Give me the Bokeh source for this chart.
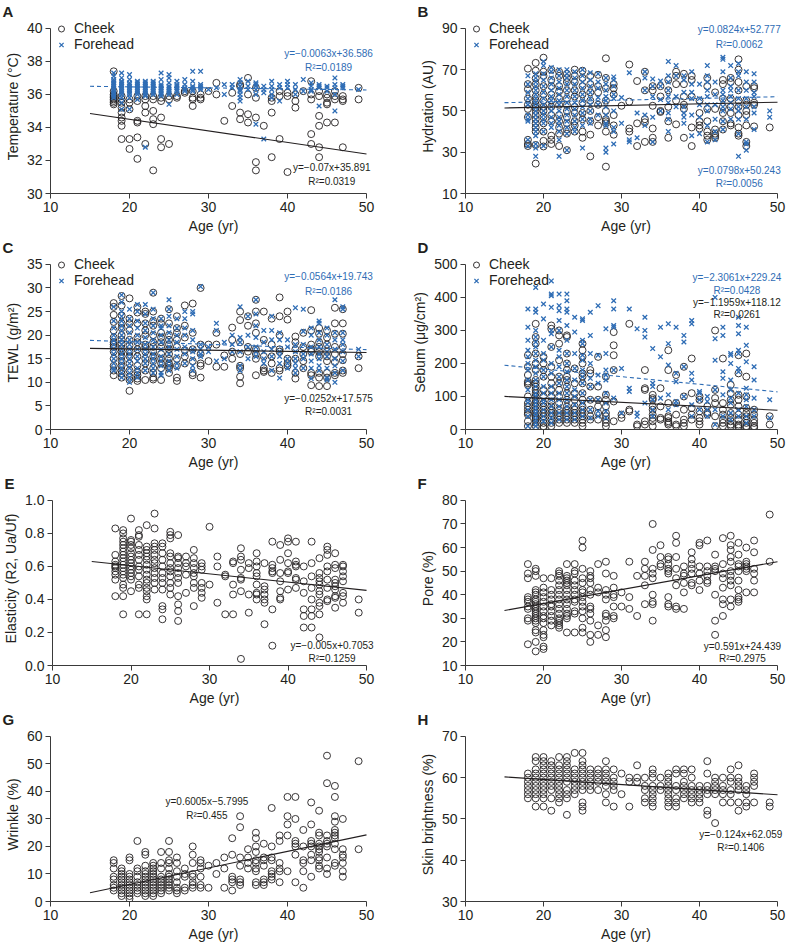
from bokeh.plotting import figure
from bokeh.layouts import column, row
from bokeh.models import Label, FixedTicker, Range1d, NumeralTickFormatter
from bokeh.embed import file_html
from bokeh.resources import INLINE

FONT = "Liberation Sans"
BLUE = "#2f6db5"
BLACK = "#231f20"

# ---------------- data (age in years -> measured values) ----------------
age_ticks = [10, 20, 30, 40, 50]

# A: Temperature (°C)
A_cheek = {
    18: [37.4, 36.2, 36.0, 35.9, 35.8, 35.7, 35.6, 35.5, 35.4],
    19: [35.9, 35.7, 35.5, 35.2, 34.9, 34.6, 34.4, 34.1, 33.3],
    20: [35.7, 35.5, 35.1, 33.3, 32.7],
    21: [35.9, 35.6, 34.4, 34.3, 33.4, 32.1],
    22: [35.9, 35.7, 35.3, 34.9, 33.0],
    23: [35.9, 35.7, 35.0, 34.5, 34.2, 31.4],
    24: [35.8, 35.6, 34.6, 33.3, 32.8],
    25: [35.9, 35.7, 33.0],
    26: [35.9, 35.8],
    27: [36.2, 36.1],
    28: [36.2, 35.8, 35.7, 35.3],
    29: [36.0, 35.8, 35.7],
    30: [36.2],
    31: [36.7, 36.0],
    32: [34.4],
    33: [36.1, 35.3],
    34: [36.6, 36.5, 34.9, 34.5],
    35: [37.0, 36.0, 34.8, 34.3],
    36: [36.4, 35.8, 34.6, 31.9, 31.4],
    37: [34.1],
    38: [35.8, 35.6, 34.9, 32.2],
    39: [36.2, 35.9, 33.3],
    40: [36.1, 35.9, 31.3],
    41: [36.0, 35.6, 35.2],
    42: [36.2],
    43: [36.8, 36.0, 35.7, 33.6, 33.0],
    44: [36.2, 35.9, 34.7, 34.1, 32.8, 32.2],
    45: [36.0, 35.8, 35.5, 35.4, 34.3],
    46: [36.2, 35.9, 35.7, 34.3],
    47: [35.9, 35.7, 35.6, 32.8],
    49: [36.4, 35.7],
}
A_forehead = {
    18: [37.3, 37.1, 36.9, 36.8, 36.7, 36.6, 36.5, 36.4, 36.3, 36.2, 36.1, 36.0, 35.9, 35.8],
    19: [37.3, 37.0, 36.8, 36.7, 36.6, 36.5, 36.4, 36.3, 36.2, 36.1, 36.0, 35.8, 35.5, 35.1],
    20: [37.2, 36.9, 36.7, 36.6, 36.5, 36.4, 36.3, 36.2, 36.1, 36.0, 35.8, 35.1],
    21: [36.8, 36.7, 36.6, 36.5, 36.4, 36.3, 36.2, 36.1, 36.0, 35.7],
    22: [36.8, 36.7, 36.6, 36.5, 36.4, 36.3, 36.2, 36.1, 36.0, 35.9, 32.8],
    23: [36.8, 36.7, 36.6, 36.5, 36.4, 36.3, 36.2, 36.1, 36.0],
    24: [37.3, 36.9, 36.6, 36.5, 36.4, 36.3, 36.2, 36.1, 36.0, 35.9],
    25: [37.2, 37.0, 36.7, 36.5, 36.4, 36.3, 36.2, 36.1, 36.0, 35.4],
    26: [36.8, 36.6, 36.5, 36.4, 36.3, 36.2, 36.0],
    27: [36.9, 36.6, 36.4, 36.3, 36.2],
    28: [37.4, 36.8, 36.5, 36.4, 36.3, 36.2],
    29: [37.4, 36.6, 36.5, 36.4, 36.3],
    30: [36.3],
    31: [36.4],
    32: [36.6, 36.0],
    33: [36.6, 36.4],
    34: [36.9, 36.7, 36.5, 36.3, 36.2, 36.0, 35.8, 35.6],
    35: [36.8, 36.5, 36.3],
    36: [36.7, 36.6, 36.5, 36.3, 36.0, 34.2],
    37: [36.5, 36.3, 36.1, 33.3],
    38: [36.8, 36.5, 36.3, 36.0, 35.8],
    39: [36.6, 36.4, 35.6],
    40: [36.8, 36.6, 36.4],
    41: [36.6, 36.3, 36.0],
    42: [36.9, 36.2],
    43: [36.7, 36.5, 36.3, 36.2],
    44: [36.6, 36.5, 36.4, 35.3],
    45: [36.5, 36.4, 36.2],
    46: [37.0, 36.6, 36.4, 36.0, 35.0],
    47: [36.6, 36.5, 36.4],
    49: [36.3],
}

# B: Hydration (AU)
B_cheek = {
    18: [70.5, 63, 60.5, 56, 53, 51, 47, 36, 34, 33],
    19: [73.3, 69.5, 65.8, 63, 60, 57, 55, 53, 51.5, 50, 48, 46, 44, 42, 40, 33.5, 24.5],
    20: [75.8, 69, 67, 62, 58, 55, 52, 50, 47, 44, 40, 35.5, 32.8],
    21: [70, 65, 62, 58, 55, 52, 48, 45, 38, 36, 34],
    22: [69, 67, 62, 59.5, 56, 53, 48, 45, 42, 39, 33],
    23: [68, 66, 64, 60, 56, 53, 50, 47, 44, 41, 39, 31],
    24: [70, 67, 64, 60, 57, 52, 49, 45, 43, 40],
    25: [69.5, 66, 62, 58, 54, 49, 46, 40, 37],
    26: [67, 63, 59, 55, 50, 45, 38.5, 28],
    27: [67.5, 62, 59, 53, 47, 43],
    28: [75.5, 66, 61, 55, 50, 46, 45, 44, 40, 23],
    29: [63, 61, 58, 48, 43, 38.5],
    30: [52.5],
    31: [72.5, 54.5, 41.5, 40],
    32: [64.5, 44, 33],
    33: [69, 60, 46, 44.5, 35],
    34: [62, 60, 52.5, 41.5, 37, 35],
    35: [62, 57, 50, 49.5],
    36: [65, 60, 52, 45, 37],
    37: [69, 67, 63, 55, 43.5],
    38: [68, 63, 57, 53, 51, 37],
    39: [67, 65, 57, 42, 33],
    40: [55, 49, 45, 43, 41.5],
    41: [66, 62, 51, 45, 40, 38, 36],
    42: [59, 51, 41, 39, 38, 37],
    43: [65, 63, 56, 52, 49, 45, 41],
    44: [66, 64, 56, 52, 49, 44, 43],
    45: [75, 70, 64, 60, 55, 52, 48, 42, 39, 38],
    46: [62, 55, 53, 50, 48, 43, 35, 33],
    47: [62, 61, 54, 53, 42.5],
    49: [42],
}
B_forehead = {
    18: [67, 63, 59, 56, 53, 48, 46, 45, 36, 33],
    19: [68, 66, 64, 62, 60, 58, 56, 54, 52, 50, 48, 46, 44, 42, 40, 38, 34, 32, 28],
    20: [74, 72, 68, 65, 62, 59, 56, 53, 50, 48, 46, 44, 40, 33],
    21: [71, 69, 66, 63, 60, 57, 55, 52, 50, 47, 44, 42],
    22: [70, 67, 64, 61, 58, 55, 53, 50, 47, 45, 43, 40, 36, 28],
    23: [70, 68, 66, 63, 60, 57, 54, 51, 48, 45, 42, 39, 31],
    24: [69, 66, 63, 60, 57, 54, 51, 48, 45, 42, 40],
    25: [70, 67, 64, 61, 58, 55, 52, 49, 46, 43, 32],
    26: [68.5, 65, 62, 59, 56, 53, 50, 46, 44],
    27: [68, 64, 61, 56.5, 53, 48],
    28: [66, 63, 60, 57, 55, 52, 48, 44, 43, 32, 30],
    29: [66.5, 65, 62, 58, 56, 50, 42, 40, 34],
    30: [56.5, 44],
    31: [68.5, 36, 35],
    32: [49, 37],
    33: [69, 66, 60, 48, 43],
    34: [65.5, 62, 57, 47, 35],
    35: [64.5, 62, 55.5, 50],
    36: [74, 67, 64, 60, 57, 54, 49, 46, 40],
    37: [72, 67, 57, 52],
    38: [67, 65, 59, 52, 49, 47, 44],
    39: [69, 63, 59, 56, 48, 38],
    40: [63, 56, 53, 47, 39],
    41: [72, 67, 64, 60, 57, 53, 50, 43, 35],
    42: [64, 58, 53, 46, 40, 36],
    43: [76, 75, 69, 60, 58, 55, 52, 50, 45, 41],
    44: [72, 66, 62, 60, 57, 54, 51, 46],
    45: [73, 69, 67, 60, 56, 52, 50, 46, 39, 28],
    46: [69, 64, 60, 56, 52, 46, 35, 34, 31],
    47: [68, 64, 59, 57, 52, 49, 41],
    49: [50, 47],
}

# C: TEWL (g/m2)
C_cheek = {
    18: [26.8, 26, 24.3, 22.8, 21, 19.5, 18.5, 18, 17.5, 16.5, 15, 13.5, 12.5, 11.5],
    19: [28.3, 26.3, 24.2, 22.5, 21.5, 20, 19, 18.2, 17.2, 16.5, 15.5, 14.5, 13.5, 12.5, 11.8, 11],
    20: [27.8, 23.5, 22.5, 21, 19, 17.8, 16.5, 15.5, 14, 12.5, 11.2, 10.5, 8.2],
    21: [26, 24.8, 22.5, 19.5, 18.5, 17, 15.5, 13.5, 12.2, 11.5, 10.8, 10.3],
    22: [25, 24.5, 22.5, 21, 20, 18, 17.5, 16.5, 15, 14, 12.5, 10.5],
    23: [29, 25, 23, 22, 20, 18.5, 17.5, 16.5, 15.5, 14.5, 13, 12, 11, 10.6],
    24: [23.5, 22.5, 20.5, 19.5, 18.5, 17.5, 16, 15, 14, 13, 10.5],
    25: [25.5, 22.5, 20, 19, 18, 17, 16, 15, 14, 13.5, 13, 12],
    26: [24, 21.5, 20.5, 19, 17.5, 15, 13.5, 11, 10.3],
    27: [26.3, 22, 19.5, 16.8, 15.5, 14],
    28: [26.7, 20.5, 17, 14.5, 12, 11.5],
    29: [30, 18, 16, 14, 13.5, 11],
    30: [18, 14.5],
    31: [20.5, 18, 13.3],
    32: [15.7, 13.3],
    33: [21.6, 19, 16.5, 15],
    34: [25, 23.2, 18.5, 16, 13.5, 13, 11.2, 9.8],
    35: [24, 22, 17.5, 16.5],
    36: [27.5, 25, 22.5, 20.5, 17, 16, 15, 11.5],
    37: [25, 19, 15.5, 13, 12.5, 12.2],
    38: [23.5, 18, 15.5, 14, 12],
    39: [28, 24, 20, 17, 16.5, 13, 12.5],
    40: [25, 23.3, 15, 14, 13.5],
    41: [19.7, 18.5, 17, 15, 12, 10.8],
    42: [20.5, 17.5, 16, 14.5, 13],
    43: [25.3, 21, 18, 17, 16.5, 12, 11.5, 9.4],
    44: [21.5, 20.3, 18.5, 17.5, 16.5, 15.5, 12, 11, 9.2],
    45: [21, 19.5, 18, 16.5, 15.5, 14.5, 12, 11, 9.2],
    46: [25.8, 22.5, 20.3, 17.5, 16, 14.3, 12, 11.5],
    47: [25.5, 22.5, 20.3, 17.5, 16, 14.7, 12.5, 12],
    49: [15.5, 13],
}
C_forehead = {
    18: [26, 23, 21.5, 20, 19, 18, 17, 16, 15, 14, 13, 12.5],
    19: [28.5, 27, 25, 24, 23, 22, 21, 20, 19, 18, 17, 16, 15, 14, 13, 12, 11],
    20: [25.5, 23.5, 22, 20.5, 19, 18, 17, 16, 15, 14, 13, 12, 11, 10],
    21: [26.5, 25, 23, 21.5, 20, 18.5, 17, 15.5, 14.5, 13, 12, 11],
    22: [26.5, 24.5, 22.5, 21, 19.5, 18, 17, 16, 15, 14, 12.5],
    23: [29, 25.5, 23.5, 22, 20.5, 19, 17.5, 16, 15, 14, 13, 12],
    24: [23.5, 22, 21.5, 20, 18.5, 17, 15.5, 14.5, 13.5, 12, 11.5],
    25: [27.5, 25.5, 24, 22, 20.5, 19, 17.5, 16, 14.5, 13.5, 12.5],
    26: [23.5, 21.5, 20, 18.5, 17, 15.5, 14, 13],
    27: [25, 23.5, 21.5, 20, 17.5, 16, 14],
    28: [25, 24.5, 21, 19, 17, 16.5, 15, 13.5, 12.5],
    29: [30.3, 18, 17, 16, 15.5],
    30: [17.5, 16.5],
    31: [22.5, 21, 14.5],
    32: [18.5, 15],
    33: [20, 18, 16.5],
    34: [26, 19.5, 18.5, 16.5, 13.5, 12.5],
    35: [24, 20, 17.5, 15],
    36: [27.5, 24.5, 22, 19.5, 17.5, 16.5, 15.5],
    37: [21, 18.5, 16.5, 15, 14],
    38: [24, 21, 19, 17, 15.5, 12.5],
    39: [20.5, 19, 16.5, 15.5, 14, 10.9],
    40: [19, 17.5, 15, 14, 13],
    41: [25.8, 18, 16.5, 15, 14, 13, 12],
    42: [25.5, 20.8, 18, 16, 15, 13],
    43: [21.5, 20, 17.5, 16, 14.5, 13, 10.8],
    44: [23, 22.5, 20.5, 19, 17.5, 16, 15, 13.5, 12.5],
    45: [21.5, 20, 18, 16.5, 15.5, 13, 10.9, 10.5],
    46: [27.5, 20.5, 19, 17, 15, 13.5, 12, 10],
    47: [26, 25.5, 20.5, 19, 18, 16.5, 14.5, 12.5],
    49: [17, 15.5],
}

# D: Sebum (ug/cm2)
D_cheek = {
    18: [225, 190, 165, 145, 140, 135, 100, 80, 70, 60, 50, 45, 25, 10],
    19: [320, 280, 260, 230, 200, 180, 150, 140, 130, 120, 110, 100, 90, 80, 70, 60, 50, 40, 35, 30, 20, 10],
    20: [220, 200, 180, 160, 120, 100, 80, 70, 60, 50, 40, 30, 20, 10, 5],
    21: [315, 305, 250, 190, 160, 140, 120, 100, 85, 70, 60, 50, 40, 30, 20, 10],
    22: [300, 285, 260, 210, 160, 140, 120, 100, 80, 60, 50, 40, 30, 20],
    23: [285, 280, 230, 200, 180, 160, 150, 130, 110, 90, 70, 60, 50, 40, 30, 20],
    24: [185, 140, 110, 90, 70, 60, 50, 40, 30, 20],
    25: [260, 240, 220, 200, 170, 160, 140, 110, 90, 70, 60, 50, 40, 30, 20, 10],
    26: [180, 170, 130, 90, 60, 40, 30],
    27: [220, 130, 90, 70, 50, 30],
    28: [160, 105, 90, 70, 50, 40, 30, 20, 10],
    29: [295, 255, 225, 180, 85, 25],
    30: [45, 35],
    31: [320, 60, 55],
    32: [15, 10],
    33: [180, 125, 120, 25, 15],
    34: [105, 95, 90, 70, 60, 45, 35, 25, 10],
    35: [125, 70, 35, 30],
    36: [240, 180, 80, 40, 35, 25, 20, 15],
    37: [165, 80, 45, 15, 10],
    38: [190, 100, 60, 30, 20, 10],
    39: [215, 110, 65, 45, 30],
    40: [100, 90, 55, 35, 25, 15],
    41: [70, 50, 45],
    42: [300, 120, 95, 80, 40, 10],
    43: [215, 80, 60, 45, 30, 20, 10],
    44: [135, 110, 90, 75, 50, 35, 25, 15, 10],
    45: [225, 170, 105, 90, 70, 45, 30, 15, 10, 5],
    46: [230, 160, 100, 65, 50, 40, 30, 20, 10, 5],
    47: [60, 45, 30, 20, 10, 5],
    49: [40, 15],
}
D_forehead = {
    18: [365, 310, 270, 240, 220, 200, 180, 150, 120, 90, 80, 60, 40, 10],
    19: [430, 365, 355, 300, 280, 265, 250, 230, 210, 190, 170, 150, 130, 110, 100, 90, 80, 70, 60, 50, 40, 30, 20, 10],
    20: [380, 335, 270, 230, 210, 180, 160, 130, 110, 90, 80, 60, 40, 25],
    21: [450, 410, 405, 370, 300, 290, 250, 200, 170, 130, 110, 90, 70, 50, 35, 20],
    22: [410, 375, 360, 330, 300, 240, 220, 190, 160, 140, 110, 90, 70, 50, 30],
    23: [410, 390, 365, 355, 315, 270, 230, 200, 175, 150, 130, 110, 90, 70, 50, 30],
    24: [340, 295, 230, 185, 150, 120, 100, 75, 50, 30],
    25: [335, 330, 270, 260, 225, 210, 180, 160, 140, 110, 80, 60, 40],
    26: [355, 285, 230, 200, 155, 130, 90, 60, 35],
    27: [375, 225, 165, 140, 90, 55, 40],
    28: [305, 230, 180, 165, 150, 110, 80, 55, 35],
    29: [390, 365, 315, 310, 180, 95],
    30: [185, 50],
    31: [365, 125, 115],
    32: [305, 50, 40],
    33: [340, 300, 280, 80],
    34: [245, 140, 130, 90, 60, 40],
    35: [310, 220, 95],
    36: [320, 260, 195, 105, 60],
    37: [310, 170, 145, 85, 75],
    38: [285, 265, 190, 100],
    39: [330, 320, 170, 150, 75, 40],
    40: [115, 110, 90, 60],
    41: [100, 85, 60, 40],
    42: [400, 275, 210, 120, 60, 15],
    43: [310, 285, 175, 155, 105, 40],
    44: [230, 225, 200, 150, 120, 95, 80, 50, 30],
    45: [340, 315, 290, 240, 230, 185, 175, 110, 60, 40],
    46: [310, 255, 205, 125, 105, 90, 70, 40, 20],
    47: [190, 150, 95, 60, 40],
    49: [90, 35],
}

# E: Elasticity (R2, Ua/Uf)
E_cheek = {
    18: [0.83, 0.67, 0.63, 0.61, 0.6, 0.59, 0.57, 0.55, 0.52, 0.42],
    19: [0.82, 0.8, 0.77, 0.75, 0.73, 0.71, 0.69, 0.67, 0.65, 0.63, 0.61, 0.59, 0.57, 0.55, 0.53, 0.49, 0.47, 0.42, 0.31],
    20: [0.89, 0.76, 0.75, 0.73, 0.71, 0.68, 0.66, 0.64, 0.62, 0.6, 0.58, 0.56, 0.54, 0.52, 0.45],
    21: [0.82, 0.79, 0.78, 0.73, 0.7, 0.67, 0.64, 0.6, 0.58, 0.54, 0.49, 0.47, 0.31],
    22: [0.85, 0.72, 0.7, 0.68, 0.66, 0.64, 0.61, 0.58, 0.55, 0.52, 0.5, 0.47, 0.45, 0.42, 0.4, 0.31],
    23: [0.92, 0.83, 0.74, 0.72, 0.7, 0.67, 0.64, 0.62, 0.59, 0.56, 0.53, 0.5, 0.46],
    24: [0.74, 0.72, 0.68, 0.64, 0.6, 0.56, 0.53, 0.5, 0.46, 0.36, 0.34, 0.28],
    25: [0.81, 0.79, 0.77, 0.68, 0.66, 0.62, 0.59, 0.57, 0.54, 0.5, 0.47, 0.43],
    26: [0.79, 0.66, 0.65, 0.62, 0.59, 0.56, 0.53, 0.5, 0.42, 0.37, 0.33, 0.27],
    27: [0.66, 0.62, 0.6, 0.55, 0.44],
    28: [0.7, 0.65, 0.62, 0.59, 0.56, 0.54, 0.5, 0.47, 0.36],
    29: [0.62, 0.6, 0.58, 0.5, 0.47, 0.44, 0.41],
    30: [0.84, 0.49],
    31: [0.66, 0.6, 0.38],
    32: [0.55, 0.54, 0.31],
    33: [0.63, 0.62, 0.49, 0.43, 0.31],
    34: [0.71, 0.66, 0.64, 0.58, 0.53, 0.52, 0.45, 0.04],
    35: [0.62, 0.59, 0.43, 0.32],
    36: [0.68, 0.63, 0.6, 0.56, 0.54, 0.49, 0.44, 0.43, 0.4],
    37: [0.62, 0.48, 0.46, 0.43, 0.4, 0.38, 0.25],
    38: [0.75, 0.61, 0.59, 0.57, 0.56, 0.34, 0.12],
    39: [0.73, 0.64, 0.56, 0.51, 0.45, 0.41, 0.4],
    40: [0.77, 0.75, 0.68, 0.62, 0.57, 0.56, 0.46],
    41: [0.75, 0.63, 0.61, 0.6, 0.53, 0.52, 0.47],
    42: [0.6, 0.51, 0.44, 0.34, 0.3, 0.23],
    43: [0.75, 0.62, 0.54, 0.47, 0.4, 0.34, 0.3, 0.23],
    44: [0.65, 0.56, 0.53, 0.51, 0.49, 0.45, 0.43, 0.38, 0.36, 0.31, 0.17],
    45: [0.72, 0.7, 0.67, 0.6, 0.57, 0.52, 0.47, 0.4, 0.39],
    46: [0.68, 0.61, 0.59, 0.52, 0.5, 0.48, 0.46, 0.42, 0.41, 0.35],
    47: [0.61, 0.6, 0.57, 0.54, 0.51, 0.44, 0.42, 0.38],
    49: [0.4, 0.32],
}

# F: Pore (%)
F_cheek = {
    18: [53, 49, 47, 39, 38, 37, 35, 34, 30, 29, 19],
    19: [51, 50, 48, 42, 41, 40, 38, 37, 36, 35, 34, 33, 32, 31, 30, 29, 28, 25, 24, 20, 16],
    20: [47, 43, 41, 39, 37, 35, 33, 31, 30, 28, 25, 23, 22, 18, 17],
    21: [47, 42, 40, 38, 36, 35, 33, 31, 29, 27],
    22: [50, 49, 48, 46, 44, 42, 40, 38, 36, 34, 32, 30, 29, 28, 27, 26],
    23: [53, 48, 47, 46, 45, 44, 42, 40, 38, 36, 34, 32, 31, 30, 24],
    24: [53, 50, 49, 46, 44, 42, 40, 38, 37, 33, 32, 24],
    25: [63, 60, 51, 47, 45, 42, 41, 39, 37, 35, 33, 30, 26, 24],
    26: [50, 48, 47, 45, 42, 40, 35, 34, 32, 29, 23, 20],
    27: [53, 43, 41, 27, 23],
    28: [54, 49, 42, 40, 38, 32, 31, 29, 25, 22],
    29: [48, 43, 40, 39, 35, 31, 30],
    30: [41, 35],
    31: [54, 39, 34],
    32: [48, 31],
    33: [54, 51, 48, 44, 36],
    34: [70, 59, 51, 49, 47, 40, 37, 36, 29],
    35: [61, 56, 53, 52],
    36: [56, 55, 53, 51, 50, 49, 39, 36, 35],
    37: [65, 62, 56, 51, 47, 44, 35, 34],
    38: [52, 49, 48, 45, 41, 34],
    39: [58, 55, 53, 51, 49, 45, 44],
    40: [62, 61, 52, 49, 46, 42],
    41: [63, 52, 50, 48, 46, 45],
    42: [57, 52, 51, 50, 40, 29, 23],
    43: [64, 53, 49, 47, 43, 38, 36, 31],
    44: [65, 61, 59, 56, 54, 50, 48, 46, 44, 38, 35],
    45: [62, 57, 53, 52, 50, 46, 42, 39, 38, 37],
    46: [60, 54, 53, 52, 51, 50, 41],
    47: [63, 58, 51, 49, 46, 41],
    49: [74, 54],
}

# G: Wrinkle (%)
G_cheek = {
    18: [15, 14, 12, 9, 8, 6, 5, 4],
    19: [12, 11, 10, 9, 8, 7, 6, 5, 4, 3, 2],
    20: [16, 15, 10, 9, 8, 7, 6, 5, 4, 3, 2, 1],
    21: [22, 12, 11, 9, 7, 6, 5, 4, 3],
    22: [18, 17, 13, 11, 10, 9, 8, 7, 6, 5, 4, 3, 2],
    23: [14, 13, 12, 11, 10, 9, 8, 7, 6, 5, 4, 3, 2],
    24: [18, 14, 12, 9, 8, 7, 6, 5, 4, 3],
    25: [22, 18, 15, 14, 12, 10, 9, 8, 7, 6, 5, 4],
    26: [16, 14, 11, 9, 7, 5, 4, 3],
    27: [12, 10, 9, 5, 4],
    28: [20, 17, 14, 10, 9, 7, 6, 5],
    29: [15, 14, 12, 9, 6, 5],
    30: [13, 5],
    31: [14, 10],
    32: [16, 12, 5],
    33: [23, 17, 9, 8, 7, 4],
    34: [31, 27, 16, 13, 8, 7, 6],
    35: [19, 16, 14, 12],
    36: [25, 23, 20, 18, 15, 14, 12, 11, 7, 6],
    37: [21, 16, 15, 13, 8, 7, 6],
    38: [34, 20, 16, 15, 11, 10, 9, 8],
    39: [24, 22, 14, 12, 11, 7],
    40: [38, 31, 28, 24, 11],
    41: [38, 30, 22, 21, 20, 17, 7],
    42: [26, 20, 15, 14, 11, 5],
    43: [36, 28, 22, 21, 20, 17, 15, 9],
    44: [33, 25, 24, 21, 20, 19, 18, 16, 15, 13, 12],
    45: [53, 43, 24, 22, 21, 20, 16, 12, 10],
    46: [42, 38, 31, 29, 26, 25, 24, 23, 21, 19, 14, 13],
    47: [30, 19, 17, 16, 14, 11, 9],
    49: [51, 19],
}

# H: Skin brightness (%)
H_cheek = {
    18: [61, 60, 59, 58, 57, 56, 55],
    19: [65, 64, 62, 61, 60, 59, 58, 57, 56, 55, 53],
    20: [65, 64, 63, 62, 61, 60, 59, 58, 57, 56, 55, 53],
    21: [64, 63, 62, 61, 60, 59, 58, 57, 55, 52],
    22: [65, 63, 62, 61, 60, 59, 58, 57, 56, 55, 54],
    23: [65, 64, 63, 62, 61, 60, 59, 57, 56, 55, 51],
    24: [66, 62, 61, 60, 59, 58, 57, 56],
    25: [66, 64, 63, 62, 61, 60, 59, 58, 57, 54, 53, 52],
    26: [62, 61, 60, 59, 58, 57],
    27: [62, 61, 60, 59, 57],
    28: [64, 62, 61, 60, 59, 58, 56, 54],
    29: [62, 60, 59, 58, 57, 53],
    30: [61, 56],
    31: [60, 59, 53],
    32: [63, 60, 59],
    33: [60, 58, 57, 55, 54],
    34: [62, 61, 60, 58, 57, 56, 55, 54, 53],
    35: [60, 58, 57],
    36: [61, 60, 59, 58, 57, 56, 55, 54, 53],
    37: [62, 61, 58, 57, 55, 54, 53],
    38: [62, 61, 59, 58, 57, 56, 55],
    39: [62, 60, 58, 57, 56, 55, 54],
    40: [58, 57, 56, 55, 54],
    41: [64, 61, 58, 57, 56, 52, 51],
    42: [60, 59, 58, 57, 56, 49],
    43: [60, 58, 57, 56, 54],
    44: [62, 60, 59, 57, 56, 54],
    45: [63, 60, 59, 58, 57, 54, 52],
    46: [58, 57, 56, 54, 53],
    47: [61, 60, 59, 58, 54],
    49: [54, 53],
}

# regression fits (slope, intercept) and their printed equations
A_fit_cheek, A_fit_fore = (-0.07, 35.891), (-0.0063, 36.586)
B_fit_cheek, B_fit_fore = (0.0798, 50.243), (0.0824, 52.777)
C_fit_cheek, C_fit_fore = (-0.0252, 17.575), (-0.0564, 19.743)
D_fit_cheek, D_fit_fore = (-1.1959, 118.12), (-2.3061, 229.24)
E_fit = (-0.005, 0.7053)
F_fit = (0.591, 24.439)
G_fit = (0.6005, -5.7995)
H_fit = (-0.124, 62.059)

A_eq = [("y=\u22120.0063x+36.586", "R\u00b2=0.0189"), ("y=\u22120.07x+35.891", "R\u00b2=0.0319")]
B_eq = [("y=0.0824x+52.777", "R\u00b2=0.0062"), ("y=0.0798x+50.243", "R\u00b2=0.0056")]
C_eq = [("y=\u22120.0564x+19.743", "R\u00b2=0.0186"), ("y=\u22120.0252x+17.575", "R\u00b2=0.0031")]
D_eq = [("y=\u22122.3061x+229.24", "R\u00b2=0.0428"), ("y=\u22121.1959x+118.12", "R\u00b2=0.0261")]
E_eq = ("y=\u22120.005x+0.7053", "R\u00b2=0.1259")
F_eq = ("y=0.591x+24.439", "R\u00b2=0.2975")
G_eq = ("y=0.6005x\u22125.7995", "R\u00b2=0.455")
H_eq = ("y=\u22120.124x+62.059", "R\u00b2=0.1406")

LINE_X = [15, 50]


def flat(d):
    xs, ys = [], []
    for a, vs in d.items():
        for v in vs:
            xs.append(a)
            ys.append(v)
    return xs, ys


# ---------------- layout ----------------
FIG_H = 236
TOP, BOTTOM = 17, 41
FRAME_EST = 176     # approx. frame height after the title panel
EXT_PX = 9          # frame extends this far above the top tick (room for legend)
# left column: axis 10..50 spans 316 px; right column: spans 312 px
LEFT_GEOM = dict(width=394, border_left=50, frame=326, span=316)
RIGHT_GEOM = dict(width=395, border_left=71, frame=321, span=312)


def panel(letter, ylabel, yr, yticks, left, fmt=None):
    g = LEFT_GEOM if left else RIGHT_GEOM
    x_end = 10 + 40.0 * g["frame"] / g["span"]
    y_top = yr[1] + (yr[1] - yr[0]) * EXT_PX / (FRAME_EST - EXT_PX)
    p = figure(
        width=g["width"], height=FIG_H,
        x_range=Range1d(10, x_end), y_range=Range1d(yr[0], y_top),
        output_backend="svg", toolbar_location=None,
        min_border_left=g["border_left"],
        min_border_right=g["width"] - g["border_left"] - g["frame"],
        min_border_top=TOP, min_border_bottom=BOTTOM,
        title=letter,
    )
    p.title.align = "left"
    p.title.offset = -48
    p.title.standoff = 0
    p.title.text_font = FONT
    p.title.text_font_size = "15px"
    p.title.text_font_style = "bold"
    p.title.text_color = BLACK
    p.outline_line_color = None
    p.xgrid.visible = False
    p.ygrid.visible = False
    p.background_fill_color = None
    p.border_fill_color = None
    p.xaxis.ticker = FixedTicker(ticks=age_ticks)
    p.xaxis.bounds = (10, 50)
    p.yaxis.ticker = FixedTicker(ticks=yticks)
    p.yaxis.bounds = tuple(yr)
    if fmt:
        p.yaxis.formatter = NumeralTickFormatter(format=fmt)
    p.xaxis.axis_label = "Age (yr)"
    p.yaxis.axis_label = ylabel
    for ax in p.axis:
        ax.axis_line_color = "#3a3a3a"
        ax.major_tick_line_color = "#3a3a3a"
        ax.major_tick_out = 5
        ax.major_tick_in = 0
        ax.minor_tick_line_color = None
        ax.major_label_text_font = FONT
        ax.major_label_text_font_size = "14px"
        ax.major_label_text_color = BLACK
        ax.major_label_standoff = 3
        ax.axis_label_text_font = FONT
        ax.axis_label_text_font_size = "14px"
        ax.axis_label_text_font_style = "normal"
        ax.axis_label_text_color = BLACK
        ax.axis_label_standoff = 3
    return p


def eq_label(p, x, y, txt, color):
    p.add_layout(Label(x=x, y=y, text=txt, text_align="center", text_baseline="middle",
                       text_font=FONT, text_font_size="10px", text_color=color))


def fit_line(p, fit, color, dash="solid"):
    m, b = fit
    p.line(LINE_X, [m * x + b for x in LINE_X], line_color=color, line_width=1.1, line_dash=dash)


def cheek_pts(p, d, legend=None):
    xs, ys = flat(d)
    kw = dict(legend_label=legend) if legend else {}
    p.scatter(xs, ys, marker="circle", size=7, fill_color=None, line_color=BLACK, line_width=0.9, **kw)


def fore_pts(p, d, legend=None):
    xs, ys = flat(d)
    kw = dict(legend_label=legend) if legend else {}
    p.scatter(xs, ys, marker="x", size=6.5, line_color=BLUE, line_width=1.3, **kw)


def style_legend(p):
    lg = p.legend[0]
    lg.location = "top_left"
    lg.border_line_color = None
    lg.background_fill_alpha = 0
    lg.padding = 0
    lg.margin = 1
    lg.spacing = 0
    lg.label_text_font = FONT
    lg.label_text_font_size = "14px"
    lg.label_text_color = BLACK
    lg.label_height = 15
    lg.glyph_height = 15
    lg.glyph_width = 20
    lg.label_standoff = 3


def two_series(letter, ylabel, yr, yticks, left, cheek, fore, fc, ff):
    p = panel(letter, ylabel, yr, yticks, left)
    cheek_pts(p, cheek, "Cheek")
    fore_pts(p, fore, "Forehead")
    fit_line(p, fc, BLACK)
    fit_line(p, ff, BLUE, "4 3")
    style_legend(p)
    return p


# ---- A
pA = two_series("A", "Temperature (\u00b0C)", (30, 40), [30, 32, 34, 36, 38, 40], True,
                A_cheek, A_forehead, A_fit_cheek, A_fit_fore)
eq_label(pA, 45.2, 38.5, A_eq[0][0], BLUE)
eq_label(pA, 45.2, 37.65, A_eq[0][1], BLUE)
eq_label(pA, 45.6, 31.55, A_eq[1][0], BLACK)
eq_label(pA, 45.6, 30.75, A_eq[1][1], BLACK)

# ---- B
pB = two_series("B", "Hydration (AU)", (10, 90), [10, 30, 50, 70, 90], False,
                B_cheek, B_forehead, B_fit_cheek, B_fit_fore)
eq_label(pB, 45.1, 89.5, B_eq[0][0], BLUE)
eq_label(pB, 45.1, 82.3, B_eq[0][1], BLUE)
eq_label(pB, 45.1, 21.3, B_eq[1][0], BLUE)
eq_label(pB, 45.1, 15.0, B_eq[1][1], BLUE)

# ---- C
pC = two_series("C", "TEWL (g/m\u00b2)", (0, 35), [0, 5, 10, 15, 20, 25, 30, 35], True,
                C_cheek, C_forehead, C_fit_cheek, C_fit_fore)
eq_label(pC, 45.2, 32.4, C_eq[0][0], BLUE)
eq_label(pC, 45.2, 29.3, C_eq[0][1], BLUE)
eq_label(pC, 45.2, 6.5, C_eq[1][0], BLACK)
eq_label(pC, 45.2, 3.8, C_eq[1][1], BLACK)

# ---- D
pD = two_series("D", "Sebum (\u03bcg/cm\u00b2)", (0, 500), [0, 100, 200, 300, 400, 500], False,
                D_cheek, D_forehead, D_fit_cheek, D_fit_fore)
eq_label(pD, 44.8, 460, D_eq[0][0], BLUE)
eq_label(pD, 44.8, 421, D_eq[0][1], BLUE)
eq_label(pD, 44.8, 386, D_eq[1][0], BLACK)
eq_label(pD, 44.8, 348, D_eq[1][1], BLACK)

# ---- E
pE = panel("E", "Elasticity (R2, Ua/Uf)", (0, 1), [0, 0.2, 0.4, 0.6, 0.8, 1.0], True, fmt="0.0")
cheek_pts(pE, E_cheek)
fit_line(pE, E_fit, BLACK)
eq_label(pE, 45.6, 0.12, E_eq[0], BLACK)
eq_label(pE, 45.6, 0.045, E_eq[1], BLACK)

# ---- F
pF = panel("F", "Pore (%)", (10, 80), [10, 20, 30, 40, 50, 60, 70, 80], False)
cheek_pts(pF, F_cheek)
fit_line(pF, F_fit, BLACK)
eq_label(pF, 45.5, 18.1, F_eq[0], BLACK)
eq_label(pF, 45.5, 13.0, F_eq[1], BLACK)

# ---- G
pG = panel("G", "Wrinkle (%)", (0, 60), [0, 10, 20, 30, 40, 50, 60], True)
cheek_pts(pG, G_cheek)
fit_line(pG, G_fit, BLACK)
eq_label(pG, 29.8, 36.3, G_eq[0], BLACK)
eq_label(pG, 29.8, 31.4, G_eq[1], BLACK)

# ---- H
pH = panel("H", "Skin brightness (%)", (30, 70), [30, 40, 50, 60, 70], False)
cheek_pts(pH, H_cheek)
fit_line(pH, H_fit, BLACK)
eq_label(pH, 45.3, 46.3, H_eq[0], BLACK)
eq_label(pH, 45.3, 43.2, H_eq[1], BLACK)

layout = column(row(pA, pB), row(pC, pD), row(pE, pF), row(pG, pH))

open("out.html", "w").write(file_html(layout, INLINE))
